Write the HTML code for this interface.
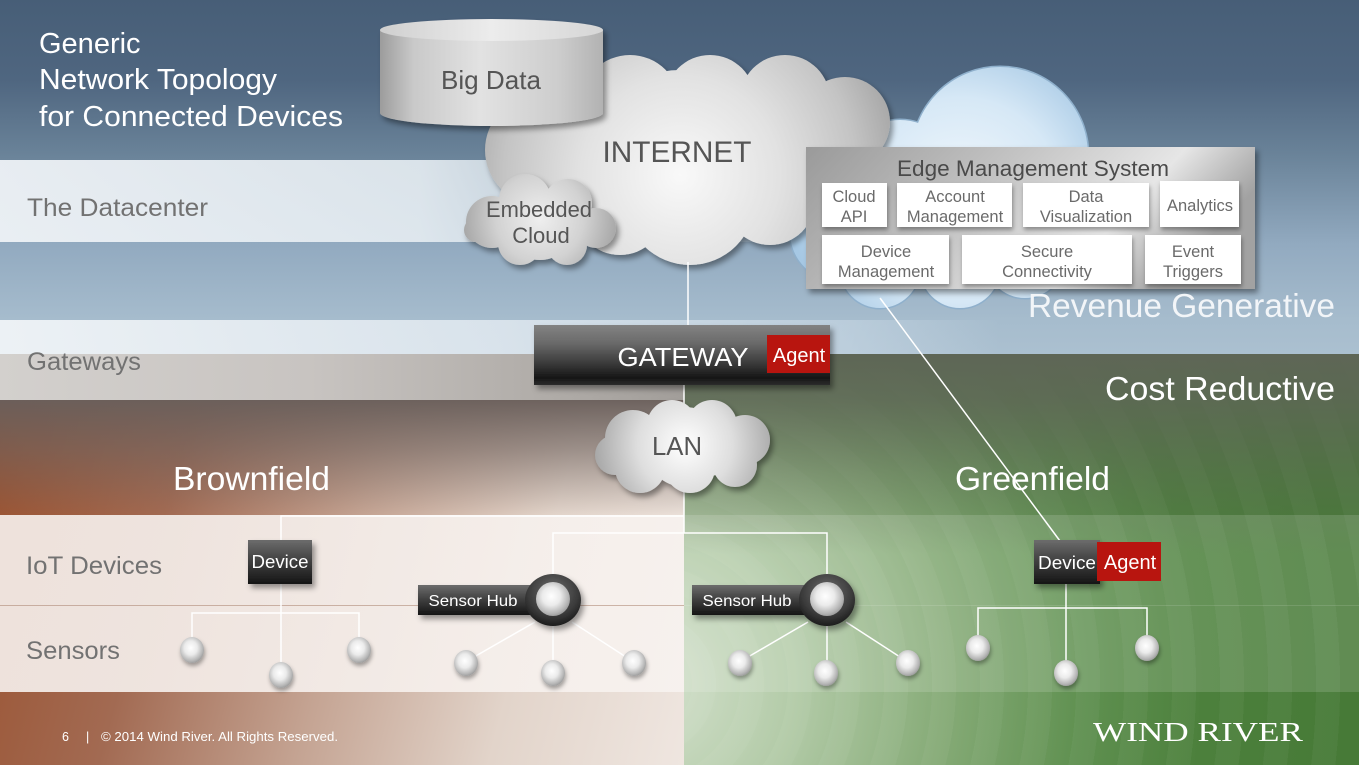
<!DOCTYPE html>
<html><head><meta charset="utf-8">
<style>
html,body{margin:0;padding:0;}
body{width:1359px;height:765px;overflow:hidden;position:relative;font-family:"Liberation Sans",Arial,sans-serif;background:#8aa;}
.a{position:absolute;}
#top{left:0;top:0;width:1359px;height:354px;background:linear-gradient(to bottom,#475e77 0,#4f6680 80px,#6a8399 155px,#92aac0 245px,#a6bccd 320px,#abc0d0 354px);}
#dc{left:0;top:160px;width:1359px;height:82px;background:linear-gradient(to right,rgba(238,242,246,.95) 0,rgba(230,237,242,.9) 420px,rgba(215,226,235,.6) 650px,rgba(200,215,228,0) 820px);}
#gwb{left:0;top:320px;width:1359px;height:34px;background:linear-gradient(to right,rgba(240,244,247,.95) 0,rgba(225,233,240,.85) 500px,rgba(205,220,232,.5) 850px,rgba(200,215,228,0) 1000px);}
#grey{left:0;top:354px;width:684px;height:46px;background:linear-gradient(to right,#d3d0cd 0,#c8c4c1 45%,#b0aca8 80%,#a29e9a 100%);}
#brown{left:0;top:400px;width:684px;height:365px;background:linear-gradient(to bottom,rgba(106,95,91,.97) 0,rgba(110,98,94,.6) 50px,rgba(110,98,94,0) 115px),linear-gradient(105deg,#9a5230 0%,#a26a52 25%,#c4a392 50%,#e2d4ca 75%,#efe6e0 100%);}
#cream{left:0;top:515px;width:684px;height:177px;background:linear-gradient(to right,rgba(245,238,234,.92),rgba(248,243,240,.88));}
#green{left:684px;top:354px;width:675px;height:411px;background:linear-gradient(to bottom,rgba(94,102,86,1) 0,rgba(94,102,86,.85) 46px,rgba(94,102,86,.4) 120px,rgba(94,102,86,0) 200px),repeating-radial-gradient(circle at -40px 330px,rgba(255,255,255,.04) 0 24px,rgba(255,255,255,0) 24px 48px),radial-gradient(circle at -40px 330px,#d6e2cf 0,#b3cba8 150px,#86ab77 300px,#5f9050 440px,#4c803c 560px,#477a37 700px);}
#gband{left:684px;top:515px;width:675px;height:177px;background:rgba(255,255,255,.14);}
#l1{left:0;top:605px;width:684px;height:1px;background:rgba(170,130,110,.55);}
#l2{left:684px;top:605px;width:675px;height:1px;background:rgba(255,255,255,.12);}
svg{position:absolute;left:0;top:0;}
</style></head><body>
<div class="a" id="top"></div>
<div class="a" id="dc"></div>
<div class="a" id="gwb"></div>
<div class="a" id="grey"></div>
<div class="a" id="brown"></div>
<div class="a" id="cream"></div>
<div class="a" id="green"></div>
<div class="a" id="gband"></div>
<div class="a" id="l1"></div>
<div class="a" id="l2"></div>
<svg width="1359" height="765" viewBox="0 0 1359 765" xmlns="http://www.w3.org/2000/svg" font-family="Liberation Sans, Arial, sans-serif">
<defs>
<filter id="sh" x="-20%" y="-20%" width="150%" height="160%"><feDropShadow dx="3" dy="4" stdDeviation="3" flood-color="#000" flood-opacity="0.4"/></filter>
<filter id="shs" x="-30%" y="-30%" width="170%" height="180%"><feDropShadow dx="1" dy="3" stdDeviation="2" flood-color="#000" flood-opacity="0.35"/></filter>
<radialGradient id="inet" gradientUnits="userSpaceOnUse" cx="680" cy="175" r="220"><stop offset="0" stop-color="#f9f9f9"/><stop offset="0.45" stop-color="#e2e2e2"/><stop offset="0.8" stop-color="#c4c4c4"/><stop offset="1" stop-color="#a8a8a8"/></radialGradient>
<radialGradient id="emb" gradientUnits="userSpaceOnUse" cx="540" cy="218" r="80"><stop offset="0" stop-color="#efefef"/><stop offset="0.55" stop-color="#d2d2d2"/><stop offset="1" stop-color="#a4a4a4"/></radialGradient>
<radialGradient id="lan" gradientUnits="userSpaceOnUse" cx="685" cy="445" r="95"><stop offset="0" stop-color="#ffffff"/><stop offset="0.5" stop-color="#dedede"/><stop offset="1" stop-color="#a2a2a2"/></radialGradient>
<radialGradient id="blue" gradientUnits="userSpaceOnUse" cx="960" cy="200" r="170"><stop offset="0" stop-color="#f4f9fd"/><stop offset="0.6" stop-color="#d6e8f6"/><stop offset="1" stop-color="#a6c8e4"/></radialGradient>
<linearGradient id="cyl" x1="0" y1="0" x2="1" y2="0"><stop offset="0" stop-color="#9c9c9c"/><stop offset="0.15" stop-color="#c9c9c9"/><stop offset="0.45" stop-color="#e2e2e2"/><stop offset="0.8" stop-color="#cdcdcd"/><stop offset="1" stop-color="#b2b2b2"/></linearGradient>
<linearGradient id="cyltop" x1="0" y1="0" x2="1" y2="0"><stop offset="0" stop-color="#cfcfcf"/><stop offset="0.5" stop-color="#ececec"/><stop offset="1" stop-color="#d6d6d6"/></linearGradient>
<linearGradient id="dark" x1="0" y1="0" x2="0" y2="1"><stop offset="0" stop-color="#828282"/><stop offset="0.3" stop-color="#6a6a6a"/><stop offset="0.6" stop-color="#404040"/><stop offset="0.88" stop-color="#161616"/><stop offset="1" stop-color="#2c2c2c"/></linearGradient>
<linearGradient id="dev" x1="0" y1="0" x2="0" y2="1"><stop offset="0" stop-color="#6c6c6c"/><stop offset="0.5" stop-color="#3e3e3e"/><stop offset="1" stop-color="#151515"/></linearGradient>
<linearGradient id="edge" x1="0" y1="0" x2="1" y2="0.3"><stop offset="0" stop-color="#9a9a9a"/><stop offset="0.45" stop-color="#c4c4c4"/><stop offset="0.78" stop-color="#e6e6e6"/><stop offset="1" stop-color="#a2a2a2"/></linearGradient>
<radialGradient id="sph" cx="0.45" cy="0.42" r="0.6"><stop offset="0" stop-color="#ffffff"/><stop offset="0.45" stop-color="#ebebeb"/><stop offset="0.85" stop-color="#b4b4b4"/><stop offset="1" stop-color="#999"/></radialGradient>
<radialGradient id="hub" cx="0.5" cy="0.35" r="0.65"><stop offset="0" stop-color="#6e6e6e"/><stop offset="0.7" stop-color="#3a3a3a"/><stop offset="1" stop-color="#1c1c1c"/></radialGradient>
</defs>

<!-- Blue cloud (behind) -->
<g>
 <g fill="#8fb0cc" stroke="#8fb0cc" stroke-width="3">
  <circle cx="1000" cy="155" r="88"/><circle cx="900" cy="175" r="55"/><circle cx="840" cy="232" r="50"/><circle cx="880" cy="268" r="40"/><circle cx="960" cy="268" r="40"/><circle cx="1025" cy="258" r="40"/><ellipse cx="940" cy="220" rx="90" ry="60"/>
 </g>
 <g fill="url(#blue)">
  <circle cx="1000" cy="155" r="88"/><circle cx="900" cy="175" r="55"/><circle cx="840" cy="232" r="50"/><circle cx="880" cy="268" r="40"/><circle cx="960" cy="268" r="40"/><circle cx="1025" cy="258" r="40"/><ellipse cx="940" cy="220" rx="90" ry="60"/>
 </g>
</g>

<!-- Internet cloud -->
<g filter="url(#sh)" fill="url(#inet)">
 <circle cx="540" cy="150" r="55"/><circle cx="630" cy="105" r="50"/><circle cx="710" cy="100" r="45"/><circle cx="785" cy="100" r="45"/><circle cx="845" cy="122" r="45"/><circle cx="620" cy="210" r="45"/><circle cx="690" cy="200" r="65"/><circle cx="770" cy="200" r="45"/><circle cx="680" cy="160" r="90"/><circle cx="820" cy="170" r="50"/><circle cx="560" cy="195" r="40"/><ellipse cx="700" cy="160" rx="150" ry="70"/>
</g>

<!-- Big Data cylinder -->
<g filter="url(#sh)">
 <path d="M380,30 L380,113 A111.5,13 0 0 0 603,113 L603,30 Z" fill="url(#cyl)"/>
 <ellipse cx="491.5" cy="30" rx="111.5" ry="11" fill="url(#cyltop)"/>
</g>

<!-- Embedded cloud -->
<g filter="url(#sh)" fill="url(#emb)">
 <circle cx="492" cy="222" r="26"/><circle cx="476" cy="230" r="12"/><circle cx="525" cy="200" r="26"/><circle cx="568" cy="203" r="24"/><circle cx="596" cy="228" r="20"/><circle cx="520" cy="243" r="22"/><circle cx="567" cy="245" r="20"/><circle cx="540" cy="225" r="35"/><ellipse cx="542" cy="224" rx="58" ry="28"/>
</g>

<!-- connectors -->
<g stroke="#ffffff" stroke-width="1.5" fill="none">
 <line x1="688" y1="262" x2="688" y2="326"/>
 <line x1="684" y1="385" x2="684" y2="405"/>
 <line x1="880" y1="298" x2="1060" y2="541"/>
 <polyline points="684,490 684,533"/>
 <polyline points="281,541 281,516 684,516"/>
 <polyline points="553,575 553,533 827,533 827,575"/>
 <line x1="281" y1="584" x2="281" y2="665"/>
 <polyline points="192,640 192,613 359,613 359,640"/>
 <line x1="553" y1="620" x2="553" y2="665"/>
 <line x1="535" y1="622" x2="474" y2="657"/>
 <line x1="572" y1="622" x2="626" y2="657"/>
 <line x1="827" y1="620" x2="827" y2="665"/>
 <line x1="808" y1="622" x2="748" y2="657"/>
 <line x1="846" y1="622" x2="900" y2="657"/>
 <line x1="1066" y1="584" x2="1066" y2="665"/>
 <polyline points="978,638 978,608 1147,608 1147,638"/>
</g>

<!-- Edge Management box -->
<rect x="806" y="147" width="449" height="142" fill="url(#edge)" filter="url(#sh)"/>
<g fill="#ffffff" filter="url(#shs)">
 <rect x="822" y="183" width="65" height="44"/>
 <rect x="897" y="183" width="115" height="44"/>
 <rect x="1023" y="183" width="126" height="44"/>
 <rect x="1160" y="181" width="79" height="46"/>
 <rect x="822" y="235" width="127" height="49"/>
 <rect x="962" y="235" width="170" height="49"/>
 <rect x="1145" y="235" width="96" height="49"/>
</g>
<g fill="#6a6a6a" font-size="16.5" text-anchor="middle">
 <text x="1033" y="176" font-size="22" fill="#4a4a4a" textLength="272" lengthAdjust="spacingAndGlyphs">Edge Management System</text>
 <text x="854" y="202">Cloud</text><text x="854" y="222">API</text>
 <text x="955" y="202">Account</text><text x="955" y="222">Management</text>
 <text x="1086" y="202">Data</text><text x="1086" y="222">Visualization</text>
 <text x="1200" y="211">Analytics</text>
 <text x="886" y="257">Device</text><text x="886" y="277">Management</text>
 <text x="1047" y="257">Secure</text><text x="1047" y="277">Connectivity</text>
 <text x="1193" y="257">Event</text><text x="1193" y="277">Triggers</text>
</g>

<!-- Gateway -->
<rect x="534" y="325" width="296" height="60" fill="url(#dark)" filter="url(#sh)"/>
<rect x="767" y="335" width="63" height="38" fill="#b8150f"/>
<text x="683" y="366" fill="#ffffff" font-size="26" text-anchor="middle" textLength="131" lengthAdjust="spacingAndGlyphs">GATEWAY</text>
<text x="799" y="362" fill="#ffffff" font-size="20" text-anchor="middle">Agent</text>

<!-- LAN cloud -->
<g filter="url(#sh)" fill="url(#lan)">
 <circle cx="633" cy="438" r="28"/><circle cx="672" cy="425" r="25"/><circle cx="712" cy="425" r="25"/><circle cx="745" cy="440" r="25"/><circle cx="615" cy="455" r="20"/><circle cx="640" cy="468" r="25"/><circle cx="690" cy="468" r="25"/><circle cx="735" cy="465" r="22"/><circle cx="685" cy="447" r="40"/><ellipse cx="683" cy="447" rx="68" ry="32"/>
</g>

<!-- Devices -->
<rect x="248" y="540" width="64" height="44" fill="url(#dev)" filter="url(#sh)"/>
<text x="280" y="568" fill="#fff" font-size="18" text-anchor="middle" textLength="57" lengthAdjust="spacingAndGlyphs">Device</text>

<rect x="1034" y="540" width="66" height="44" fill="url(#dev)" filter="url(#sh)"/>
<rect x="1097" y="542" width="64" height="39" fill="#b8150f"/>
<text x="1067" y="569" fill="#fff" font-size="18" text-anchor="middle" textLength="58" lengthAdjust="spacingAndGlyphs">Device</text>
<text x="1130" y="569" fill="#fff" font-size="20" text-anchor="middle">Agent</text>

<!-- Sensor hubs -->
<g filter="url(#sh)">
 <rect x="418" y="585" width="125" height="30" fill="url(#dev)"/>
 <ellipse cx="553" cy="600" rx="28" ry="26" fill="url(#hub)"/>
 <rect x="692" y="585" width="125" height="30" fill="url(#dev)"/>
 <ellipse cx="827" cy="600" rx="28" ry="26" fill="url(#hub)"/>
</g>
<circle cx="553" cy="599" r="17" fill="url(#sph)"/>
<circle cx="827" cy="599" r="17" fill="url(#sph)"/>
<text x="473" y="606" fill="#fff" font-size="16" text-anchor="middle" textLength="89" lengthAdjust="spacingAndGlyphs">Sensor Hub</text>
<text x="747" y="606" fill="#fff" font-size="16" text-anchor="middle" textLength="89" lengthAdjust="spacingAndGlyphs">Sensor Hub</text>

<!-- Sensors -->
<g filter="url(#shs)" fill="url(#sph)">
 <ellipse cx="192" cy="650" rx="12" ry="13"/>
 <ellipse cx="281" cy="675" rx="12" ry="13"/>
 <ellipse cx="359" cy="650" rx="12" ry="13"/>
 <ellipse cx="466" cy="663" rx="12" ry="13"/>
 <ellipse cx="553" cy="673" rx="12" ry="13"/>
 <ellipse cx="634" cy="663" rx="12" ry="13"/>
 <ellipse cx="740" cy="663" rx="12" ry="13"/>
 <ellipse cx="826" cy="673" rx="12" ry="13"/>
 <ellipse cx="908" cy="663" rx="12" ry="13"/>
 <ellipse cx="978" cy="648" rx="12" ry="13"/>
 <ellipse cx="1066" cy="673" rx="12" ry="13"/>
 <ellipse cx="1147" cy="648" rx="12" ry="13"/>
</g>

<!-- Cloud labels -->
<text x="491" y="89" fill="#555" font-size="26" text-anchor="middle" textLength="100" lengthAdjust="spacingAndGlyphs">Big Data</text>
<text x="677" y="162" fill="#555" font-size="30" text-anchor="middle" textLength="149" lengthAdjust="spacingAndGlyphs">INTERNET</text>
<text x="539" y="217" fill="#555" font-size="22" text-anchor="middle" textLength="106" lengthAdjust="spacingAndGlyphs">Embedded</text>
<text x="541" y="243" fill="#555" font-size="22" text-anchor="middle">Cloud</text>
<text x="677" y="455" fill="#555" font-size="26" text-anchor="middle" textLength="50" lengthAdjust="spacingAndGlyphs">LAN</text>

<!-- Title & labels -->
<g fill="#ffffff" font-size="29">
 <text x="39" y="53">Generic</text>
 <text x="39" y="89" textLength="238" lengthAdjust="spacingAndGlyphs">Network Topology</text>
 <text x="39" y="126" textLength="304" lengthAdjust="spacingAndGlyphs">for Connected Devices</text>
</g>
<g fill="#727272" font-size="25">
 <text x="27" y="216" textLength="181" lengthAdjust="spacingAndGlyphs">The Datacenter</text>
 <text x="27" y="370" textLength="114" lengthAdjust="spacingAndGlyphs">Gateways</text>
 <text x="26" y="574" textLength="136" lengthAdjust="spacingAndGlyphs">IoT Devices</text>
 <text x="26" y="659" textLength="94" lengthAdjust="spacingAndGlyphs">Sensors</text>
</g>
<g fill="#ffffff" font-size="33">
 <text x="173" y="490" textLength="157" lengthAdjust="spacingAndGlyphs">Brownfield</text>
 <text x="955" y="490" textLength="155" lengthAdjust="spacingAndGlyphs">Greenfield</text>
 <text x="1105" y="400" textLength="230" lengthAdjust="spacingAndGlyphs">Cost Reductive</text>
 <text x="1028" y="317" fill="#f2f5f8" textLength="307" lengthAdjust="spacingAndGlyphs">Revenue Generative</text>
</g>

<!-- Footer -->
<g fill="#ffffff" font-size="12.5">
 <text x="62" y="741">6</text>
 <text x="86" y="741">|</text>
 <text x="101" y="741" textLength="237" lengthAdjust="spacingAndGlyphs">© 2014 Wind River. All Rights Reserved.</text>
</g>
<text x="1093" y="741" fill="#ffffff" font-family="Liberation Serif, serif" font-size="27" textLength="210" lengthAdjust="spacingAndGlyphs">WIND RIVER</text>
</svg>
</body></html>
